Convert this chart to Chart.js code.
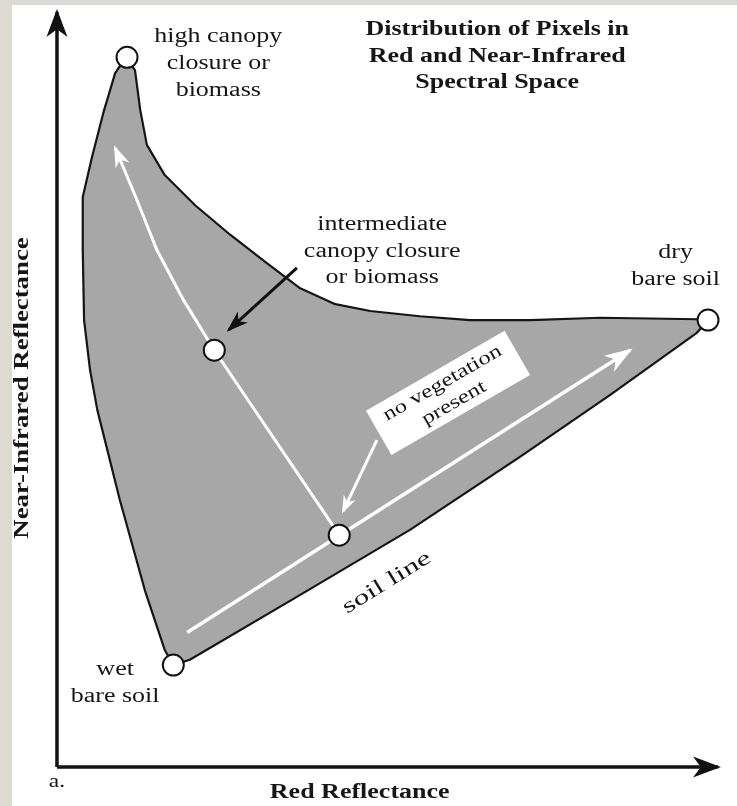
<!DOCTYPE html>
<html>
<head>
<meta charset="utf-8">
<script src="https://cdn.jsdelivr.net/npm/chart.js@4.4.1/dist/chart.umd.min.js"></script>
<style>
  html, body { margin: 0; padding: 0; background: #dcdad3; }
  canvas { display: block; }
</style>
</head>
<body>
<canvas id="spaceChart" width="737" height="806"></canvas>
<script>
// ---- values (red reflectance, NIR reflectance; axes run 0..100) ----
const upperEdge = [[10.4,94.0],[11.8,92.3],[12.6,87.0],[13.6,82.4],[16.3,78.4],[20.9,74.4],[26.2,70.5],
  [31.5,66.9],[36.8,63.4],[42.1,61.3],[47.4,60.4],[54.9,59.7],[62.5,59.2],[71.6,59.2],[82.2,59.5],[97.0,59.3],[98.5,59.1]];
const soilEdge = [[98.5,59.1],[96.8,57.5],[83.7,49.3],[70.1,41.1],[53.4,31.4],[36.8,22.8],[20.1,14.2],[17.6,13.5]];
const wetEdge = [[17.6,13.5],[16.3,15.5],[13.3,23.4],[9.5,35.4],[6.1,47.3],[5.0,52.6],[4.1,59.2],[3.9,68.5],
  [3.9,75.5],[5.3,80.8],[7.0,86.6],[8.8,91.9],[10.4,94.0]];

const vegetationPath = [[42.8,30.6],[23.8,55.2],[19.1,61.9],[15.1,68.5],[12.1,75.1],[10.0,79.5],[8.8,82.0]];
const soilLinePath = [[19.7,17.8],[86.7,55.2]];
const noVegPointer = [[48.4,43.3],[43.3,33.9]];
const canopyPointer = [[36.3,66.1],[26.0,57.9]];

const pointNames = ['high canopy', 'intermediate', 'dry soil', 'soil line mid', 'wet soil'];
const pointX = [10.6, 23.8, 98.5, 42.7, 17.6];
const pointY = [94.0, 55.2, 59.2, 30.7, 13.5];

const xAxisPath = [[0,0],[100,0]];
const yAxisPath = [[0,0],[0,100]];

const toXY = arr => arr.map(p => ({ x: p[0], y: p[1] }));
const outline = toXY(upperEdge.concat(soilEdge.slice(1), wetEdge.slice(1)));

// annotation text (anchors in data units)
const labels = [
  { lines: ['high canopy', 'closure or', 'biomass'], x: 24.4, y: 93.2, size: 20, lh: 27 },
  { lines: ['Distribution of Pixels in', 'Red and Near-Infrared', 'Spectral Space'], x: 66.6, y: 94.1, size: 20, lh: 26.5, bold: true },
  { lines: ['intermediate', 'canopy closure', 'or biomass'], x: 49.2, y: 68.3, size: 20, lh: 26.5 },
  { lines: ['dry', 'bare soil'], x: 93.6, y: 66.3, size: 20, lh: 27 },
  { lines: ['wet', 'bare soil'], x: 8.8, y: 11.1, size: 20, lh: 27 },
  { lines: ['soil line'], x: 49.9, y: 24.4, size: 21, lh: 24, rot: -32, sx: 1.5 },
  { lines: ['no vegetation', 'present'], x: 59.2, y: 49.5, size: 19, lh: 23, rot: -30 },
  { lines: ['a.'], x: 0, y: -2.0, size: 18 },
  { lines: ['Red Reflectance'], x: 45.8, y: -3.4, size: 20, bold: true },
  { lines: ['Near-Infrared Reflectance'], x: -5.1, y: 50.2, size: 20, bold: true, rot: -90, sx: 1.34 }
];

function drawHead(ctx, a, b, len, wid, color) {
  const dx = b.x - a.x, dy = b.y - a.y, d = Math.hypot(dx, dy);
  const ux = dx / d, uy = dy / d, nx = -uy, ny = ux;
  const tx = b.x + ux * 3, ty = b.y + uy * 3;
  ctx.save();
  ctx.fillStyle = color;
  ctx.beginPath();
  ctx.moveTo(tx, ty);
  ctx.lineTo(tx - ux * len + nx * wid / 2, ty - uy * len + ny * wid / 2);
  ctx.lineTo(tx - ux * len * 0.72, ty - uy * len * 0.72);
  ctx.lineTo(tx - ux * len - nx * wid / 2, ty - uy * len - ny * wid / 2);
  ctx.closePath();
  ctx.fill();
  ctx.restore();
}

const decor = {
  id: 'decor',
  beforeDraw(chart) {
    const ctx = chart.ctx;
    ctx.save();
    ctx.fillStyle = '#dcdad3';
    ctx.fillRect(0, 0, chart.width, chart.height);
    ctx.fillStyle = '#ffffff';
    ctx.fillRect(12, 5, chart.width - 12, chart.height - 5);
    ctx.restore();
  },
  afterDatasetDraw(chart, args) {
    const ds = chart.data.datasets[args.index];
    if (!ds.head) return;
    const pts = args.meta.data;
    drawHead(chart.ctx, pts[pts.length - 2], pts[pts.length - 1], ds.head[0], ds.head[1], ds.borderColor);
  },
  afterDatasetsDraw(chart) {
    const ctx = chart.ctx, xs = chart.scales.x, ys = chart.scales.y;
    // white box behind "no vegetation present"
    ctx.save();
    ctx.translate(xs.getPixelForValue(59.2), ys.getPixelForValue(49.5));
    ctx.rotate(-30 * Math.PI / 180);
    ctx.fillStyle = '#ffffff';
    ctx.fillRect(-80, -26, 160, 51);
    ctx.restore();

    labels.forEach(l => {
      ctx.save();
      ctx.translate(xs.getPixelForValue(l.x), ys.getPixelForValue(l.y));
      ctx.rotate((l.rot || 0) * Math.PI / 180);
      ctx.scale(l.sx || 1.3, 1);
      ctx.font = (l.bold ? 'bold ' : '') + l.size + 'px "Liberation Serif", "DejaVu Serif", serif';
      ctx.fillStyle = '#161616';
      ctx.textAlign = 'center';
      ctx.textBaseline = 'middle';
      const lh = l.lh || 0;
      const y0 = -lh * (l.lines.length - 1) / 2;
      l.lines.forEach((t, i) => ctx.fillText(t, 0, y0 + i * lh));
      ctx.restore();
    });
  }
};

const pathSet = (data, color, width, head, order) => ({
  data: toXY(data), showLine: true, borderColor: color, borderWidth: width,
  pointRadius: 0, fill: false, head: head, order: order, clip: false
});

new Chart(document.getElementById('spaceChart'), {
  type: 'scatter',
  data: {
    datasets: [
      {
        data: outline, showLine: true, fill: 'shape',
        backgroundColor: '#a7a7a7', borderColor: '#151515', borderWidth: 2.2,
        borderJoinStyle: 'round', pointRadius: 0, order: 9, clip: false
      },
      pathSet(vegetationPath, '#ffffff', 3, [22, 15], 6),
      pathSet(soilLinePath, '#ffffff', 3.5, [28, 19], 6),
      pathSet(noVegPointer, '#ffffff', 3, [18, 13], 6),
      pathSet(canopyPointer, '#111111', 3, [22, 15], 5),
      pathSet(xAxisPath, '#111111', 3.5, [28, 21], 5),
      pathSet(yAxisPath, '#111111', 3.5, [28, 21], 5),
      {
        data: pointX.map((x, i) => ({ x: x, y: pointY[i], name: pointNames[i] })),
        pointRadius: 10.5, pointBackgroundColor: '#ffffff', pointBorderColor: '#111111',
        pointBorderWidth: 2, order: 1, clip: false
      }
    ]
  },
  options: {
    responsive: false,
    animation: false,
    layout: { padding: 0, autoPadding: false },
    plugins: { legend: { display: false }, tooltip: { enabled: false }, title: { display: false } },
    scales: {
      x: { type: 'linear', min: -8.62, max: 102.88, display: false },
      y: { type: 'linear', min: -5.17, max: 101.59, display: false }
    }
  },
  plugins: [decor]
});
</script>
</body>
</html>
